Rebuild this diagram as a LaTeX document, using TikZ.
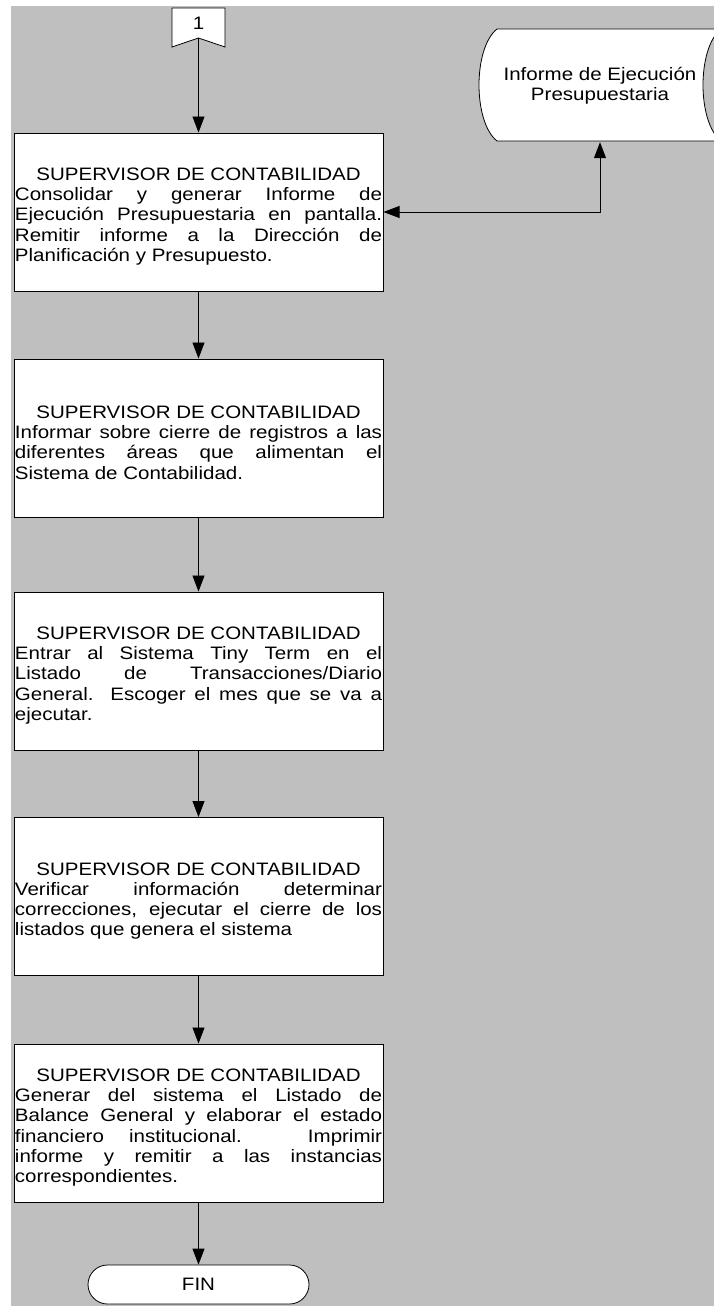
\documentclass[tikz,border=0pt]{standalone}
\usepackage{amssymb,amsmath}
\usepackage{graphicx,color}
\usepackage{fontspec}
\setmainfont{Liberation Sans}
\usepackage{tikz}
\usetikzlibrary{arrows.meta}

\newcommand{\ancho}[1]{\scalebox{1.14}[1]{#1}}
\newcommand{\tarea}[2]{\ancho{\parbox{322pt}{\vspace*{9pt}\hyphenpenalty=10000
    {\centering #1\par}#2}}}

\begin{document}
\begin{tikzpicture}[
        x=1pt,
        y=-1pt,
        fondo/.style={fill=gray!50},
        tareabox/.style={
            draw,
            fill=white,
            line width=1pt,
            minimum width=369pt,
            minimum height=158pt,
            inner sep=0pt,
            font=\fontsize{18}{20.2}\selectfont
        },
        flecha/.style={-{Triangle[length=16pt,width=12pt]}, line width=0.8pt},
        dobleflecha/.style={{Triangle[length=16pt,width=12pt]}-{Triangle[length=16pt,width=12pt]}, line width=0.8pt},
        figura/.style={draw, fill=white, line width=0.8pt}
    ]
    \useasboundingbox (0,0) rectangle (714,1306);
    \fill[fondo] (11,6) rectangle (714,1306);
    \draw[figura] (172,8) -- (225,8) -- (225,47) -- (198.5,38) -- (172,47) -- cycle;
    \node[font=\fontsize{18}{20.2}\selectfont] (conector) at (198.5,23) {\ancho{1}};
    \coordinate (conectorPunta) at (198.5,38);
    \draw[figura] (497,29) -- (721,29)
        .. controls (697,48) and (697,122) .. (721,141)
        -- (497,141)
        .. controls (473,122) and (473,48) .. (497,29) -- cycle;
    \node[
            minimum width=242pt,
            minimum height=112pt,
            align=center,
            font=\fontsize{18}{20.2}\selectfont
        ] (informe) at (600,86) {\ancho{Informe de Ejecución}\\\ancho{Presupuestaria}};
    \node[tareabox] (task1) at (198.5,212) {\tarea{SUPERVISOR DE CONTABILIDAD}{Consolidar y generar Informe de\linebreak
        Ejecución Presupuestaria en pantalla.\linebreak
        Remitir informe a la Dirección de\linebreak
        Planificación y Presupuesto.}};
    \node[tareabox] (task2) at (198.5,438) {\tarea{SUPERVISOR DE CONTABILIDAD}{Informar sobre cierre de registros a las\linebreak
        diferentes áreas que alimentan el\linebreak
        Sistema de Contabilidad.}};
    \node[tareabox] (task3) at (198.5,671) {\tarea{SUPERVISOR DE CONTABILIDAD}{Entrar al Sistema Tiny Term en el\linebreak
        Listado de Transacciones/Diario\linebreak
        General. Escoger el mes que se va a\linebreak
        ejecutar.}};
    \node[tareabox] (task4) at (198.5,896.5) {\tarea{SUPERVISOR DE CONTABILIDAD}{Verificar información determinar\linebreak
        correcciones, ejecutar el cierre de los\linebreak
        listados que genera el sistema}};
    \node[tareabox] (task5) at (198.5,1123) {\tarea{SUPERVISOR DE CONTABILIDAD}{Generar del sistema el Listado de\linebreak
        Balance General y elaborar el estado\linebreak
        financiero institucional. Imprimir\linebreak
        informe y remitir a las instancias\linebreak
        correspondientes.}};
    \node[
            figura,
            rounded corners=19.5pt,
            minimum width=221pt,
            minimum height=39pt,
            font=\fontsize{18}{20.2}\selectfont
        ] (fin) at (198.5,1284.5) {\ancho{FIN}};
    \draw[flecha] (conectorPunta) -- (task1.north);
    \draw[flecha] (task1) -- (task2);
    \draw[flecha] (task2) -- (task3);
    \draw[flecha] (task3) -- (task4);
    \draw[flecha] (task4) -- (task5);
    \draw[flecha] (task5) -- (fin);
    \draw[dobleflecha] (task1.east) -| (informe.south);
\end{tikzpicture}
\end{document}
